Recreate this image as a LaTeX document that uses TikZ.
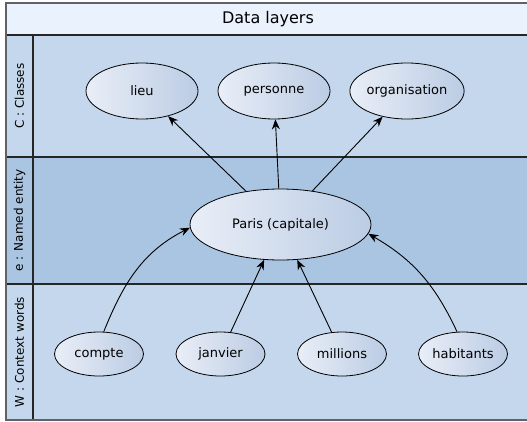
\documentclass[tikz,border=0pt]{standalone}
\usepackage{fontspec}
\setmainfont{DejaVu Sans}
\usetikzlibrary{arrows.meta,shapes.geometric}
\definecolor{titlefill}{HTML}{EAF2FD}
\definecolor{lanelight}{HTML}{C4D7EC}
\definecolor{lanedark}{HTML}{AAC5E1}
\definecolor{ovalleft}{HTML}{E9EEF7}
\definecolor{ovalright}{HTML}{BBCCE4}
\definecolor{framegray}{HTML}{5F6367}
\tikzset{
  word/.style={ellipse, draw=black, line width=0.8pt, left color=ovalleft, right color=ovalright,
    inner sep=0pt, font=\fontsize{13}{15}\selectfont},
  lanelabel/.style={rotate=90, font=\fontsize{12}{14}\selectfont},
  link/.style={-{Stealth[length=10pt,width=8pt]}, line width=0.9pt}
}
\begin{document}
\begin{tikzpicture}[x=1pt,y=1pt]
  \useasboundingbox (0,0) rectangle (527,-421);
  % lanes
  \fill[titlefill] (6,-3) rectangle (528,-35);
  \fill[lanelight] (6,-35) rectangle (528,-157);
  \fill[lanedark] (6,-157) rectangle (528,-284);
  \fill[lanelight] (6,-284) rectangle (528,-420);
  \draw[line width=1.2pt, black!85] (6,-35) -- (528,-35);
  \draw[line width=1.2pt, black!85] (6,-157) -- (528,-157);
  \draw[line width=1.2pt, black!85] (6,-284) -- (528,-284);
  \draw[line width=1.2pt, black!85] (33,-35) -- (33,-420);
  \draw[line width=1.6pt, framegray] (6,-3) rectangle (528,-420);
  \node[font=\fontsize{16}{18}\selectfont] (title) at (268,-19) {Data layers};
  \node[lanelabel] (classlabel) at (19.5,-96) {C : Classes};
  \node[lanelabel] (entitylabel) at (19.5,-220.5) {e : Named entity};
  \node[lanelabel] (contextlabel) at (19.5,-352) {W : Context words};
  % classes
  \node[word, minimum width=112pt, minimum height=56pt] (lieu) at (142,-91) {lieu};
  \node[word, minimum width=112pt, minimum height=56pt] (personne) at (274,-91) {personne};
  \node[word, minimum width=112pt, minimum height=56pt] (organisation) at (407,-91) {organisation};
  % entity
  \node[word, minimum width=181pt, minimum height=71pt] (paris) at (280.5,-224.5) {Paris (capitale)};
  % context words
  \node[word, minimum width=89pt, minimum height=44pt] (compte) at (99,-354) {compte};
  \node[word, minimum width=89pt, minimum height=44pt] (janvier) at (220.5,-354) {janvier};
  \node[word, minimum width=89pt, minimum height=44pt] (millions) at (342,-354) {millions};
  \node[word, minimum width=89pt, minimum height=44pt] (habitants) at (463,-354) {habitants};
  % links
  \draw[link] (paris) -- (lieu);
  \draw[link] (paris) -- (personne);
  \draw[link] (paris) -- (organisation);
  \draw[link] (compte.78) to[out=68,in=207] (paris.182);
  \draw[link] (janvier) -- (paris);
  \draw[link] (millions) -- (paris);
  \draw[link] (habitants.105) to[out=115,in=-30] (paris.-6);
\end{tikzpicture}
\end{document}
